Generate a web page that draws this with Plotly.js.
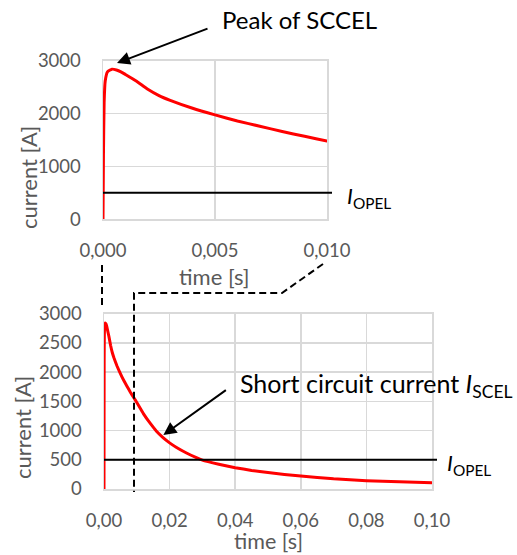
<!DOCTYPE html>
<html>
<head>
<meta charset="utf-8">
<script src="https://cdn.plot.ly/plotly-3.0.1.min.js"></script>
<style>html,body{margin:0;padding:0;background:#fff;}#chart{width:517px;height:555px;}</style>
</head>
<body>
<div id="chart"></div>
<script>
// ---- data ----
const timeS = [0, 0.00002, 0.00005, 0.0001, 0.0002, 0.0004, 0.0006, 0.0008, 0.001, 0.0015,
  0.002, 0.0025, 0.003, 0.004, 0.005, 0.006, 0.007, 0.008, 0.009, 0.010,
  0.012, 0.014, 0.016, 0.018, 0.020, 0.022, 0.025, 0.028, 0.030, 0.035,
  0.040, 0.045, 0.050, 0.055, 0.060, 0.070, 0.080, 0.090, 0.100];
const currentA = [0, 1200, 2200, 2620, 2790, 2840, 2825, 2790, 2740, 2610,
  2460, 2340, 2250, 2100, 1975, 1860, 1760, 1660, 1570, 1480,
  1290, 1130, 990, 880, 790, 715, 620, 540, 495, 425,
  365, 318, 282, 250, 222, 175, 143, 122, 108];
const iOpel = 500;
const topXTicks = [0, 0.005, 0.010];
const topYTicks = [0, 1000, 2000, 3000];
const botXTicks = [0, 0.02, 0.04, 0.06, 0.08, 0.10];
const botYTicks = [0, 500, 1000, 1500, 2000, 2500, 3000];
const peakPoint = {t: 0.000625, i: 2956};
const scelPoint = {t: 0.0181, i: 924};

// ---- layout helpers ----
const W = 517, H = 555;
const px = v => v / W;
const py = v => (H - v) / H;
const FONT = 'Lato, "Open Sans", sans-serif';
const grey = '#595959';

function xAxis(dom, range, ticks, fmt, anchor) {
  return {domain: dom, range: range, anchor: anchor, tickvals: ticks, tickformat: fmt,
    showgrid: true, gridcolor: '#d9d9d9', gridwidth: 1.5, zeroline: false,
    showline: true, linecolor: '#d9d9d9', linewidth: 1.5, mirror: true,
    ticks: 'outside', ticklen: 14, tickcolor: 'rgba(0,0,0,0)',
    tickfont: {family: FONT, size: 18.5, color: grey}, fixedrange: true};
}
function yAxis(dom, range, ticks, anchor) {
  return {domain: dom, range: range, anchor: anchor, tickvals: ticks,
    showgrid: true, gridcolor: '#d9d9d9', gridwidth: 1.5, zeroline: false,
    showline: true, linecolor: '#d9d9d9', linewidth: 1.5, mirror: true,
    ticks: 'outside', ticklen: 17, tickcolor: 'rgba(0,0,0,0)',
    tickfont: {family: FONT, size: 18.5, color: grey}, fixedrange: true};
}

const traces = [
  {x: timeS, y: currentA, xaxis: 'x', yaxis: 'y', mode: 'lines',
   line: {color: '#ff0000', width: 3, shape: 'spline', smoothing: 0.5}, hoverinfo: 'skip'},
  {x: timeS, y: currentA, xaxis: 'x2', yaxis: 'y2', mode: 'lines',
   line: {color: '#ff0000', width: 3, shape: 'spline', smoothing: 0.3}, hoverinfo: 'skip'}
];

const dash = {color: '#000', width: 2, dash: '7px,4px'};
const axTitleFont = {family: FONT, size: 22, color: grey};
const layout = {
  width: W, height: H,
  margin: {l: 0, r: 0, t: 0, b: 0},
  paper_bgcolor: '#fff', plot_bgcolor: '#fff',
  showlegend: false,
  separators: ', ',
  font: {family: FONT, color: grey},
  xaxis: xAxis([px(103), px(327)], [0, 0.010], topXTicks, '.3f', 'y'),
  yaxis: yAxis([py(219.3), py(60.7)], [0, 3000], topYTicks, 'x'),
  xaxis2: xAxis([px(104), px(432)], [0, 0.10], botXTicks, '.2f', 'y2'),
  yaxis2: yAxis([py(489), py(313.7)], [0, 3000], botYTicks, 'x2'),
  shapes: [
    // I_OPEL threshold lines
    {type: 'line', xref: 'paper', yref: 'y', x0: px(103), x1: px(332), y0: iOpel, y1: iOpel,
     line: {color: '#000', width: 2}},
    {type: 'line', xref: 'paper', yref: 'y2', x0: px(104), x1: px(437), y0: iOpel, y1: iOpel,
     line: {color: '#000', width: 2}},
    // zoom connector dashed lines
    {type: 'line', xref: 'paper', yref: 'paper', x0: px(102), x1: px(102), y0: py(265), y1: py(306),
     line: dash},
    {type: 'path', xref: 'paper', yref: 'paper',
     path: `M ${px(323)} ${py(264)} L ${px(282)} ${py(293)} L ${px(134)} ${py(293)} L ${px(134)} ${py(492)}`,
     line: dash}
  ],
  annotations: [
    {xref: 'paper', yref: 'paper', x: px(28), y: py(178), xanchor: 'center', yanchor: 'middle',
     text: 'current [A]', textangle: -90, showarrow: false, font: axTitleFont},
    {xref: 'paper', yref: 'paper', x: px(22), y: py(428), xanchor: 'center', yanchor: 'middle',
     text: 'current [A]', textangle: -90, showarrow: false, font: axTitleFont},
    {xref: 'paper', yref: 'paper', x: px(214), y: py(276), xanchor: 'center', yanchor: 'middle',
     text: 'time [s]', showarrow: false, font: axTitleFont},
    {xref: 'paper', yref: 'paper', x: px(268), y: py(541), xanchor: 'center', yanchor: 'middle',
     text: 'time [s]', showarrow: false, font: {family: FONT, size: 21.5, color: grey}},
    {xref: 'paper', yref: 'y', x: px(345), y: iOpel, yshift: -4, xanchor: 'left', yanchor: 'middle',
     text: '<i>I</i><sub>OPEL</sub>', showarrow: false, font: {family: FONT, size: 22, color: '#000'}},
    {xref: 'paper', yref: 'y2', x: px(445), y: iOpel, yshift: -4, xanchor: 'left', yanchor: 'middle',
     text: '<i>I</i><sub>OPEL</sub>', showarrow: false, font: {family: FONT, size: 22, color: '#000'}},
    {xref: 'paper', yref: 'paper', x: px(220), y: py(20), xanchor: 'left', yanchor: 'middle',
     text: 'Peak of SCCEL', showarrow: false, font: {family: FONT, size: 24, color: '#000'}},
    {xref: 'paper', yref: 'paper', x: px(238), y: py(385), xanchor: 'left', yanchor: 'middle',
     text: 'Short circuit current <i>I</i><sub>SCEL</sub>', showarrow: false,
     font: {family: FONT, size: 25, color: '#000'}},
    // arrows
    {xref: 'x', yref: 'y', x: peakPoint.t, y: peakPoint.i, text: '', showarrow: true,
     ax: 92, ay: -35, arrowhead: 2, arrowsize: 1.3, arrowwidth: 2, arrowcolor: '#000'},
    {xref: 'x2', yref: 'y2', x: scelPoint.t, y: scelPoint.i, text: '', showarrow: true,
     ax: 64, ay: -46, arrowhead: 2, arrowsize: 1.3, arrowwidth: 2, arrowcolor: '#000'}
  ]
};

Plotly.newPlot('chart', traces, layout, {staticPlot: true, displayModeBar: false});
</script>
</body>
</html>
